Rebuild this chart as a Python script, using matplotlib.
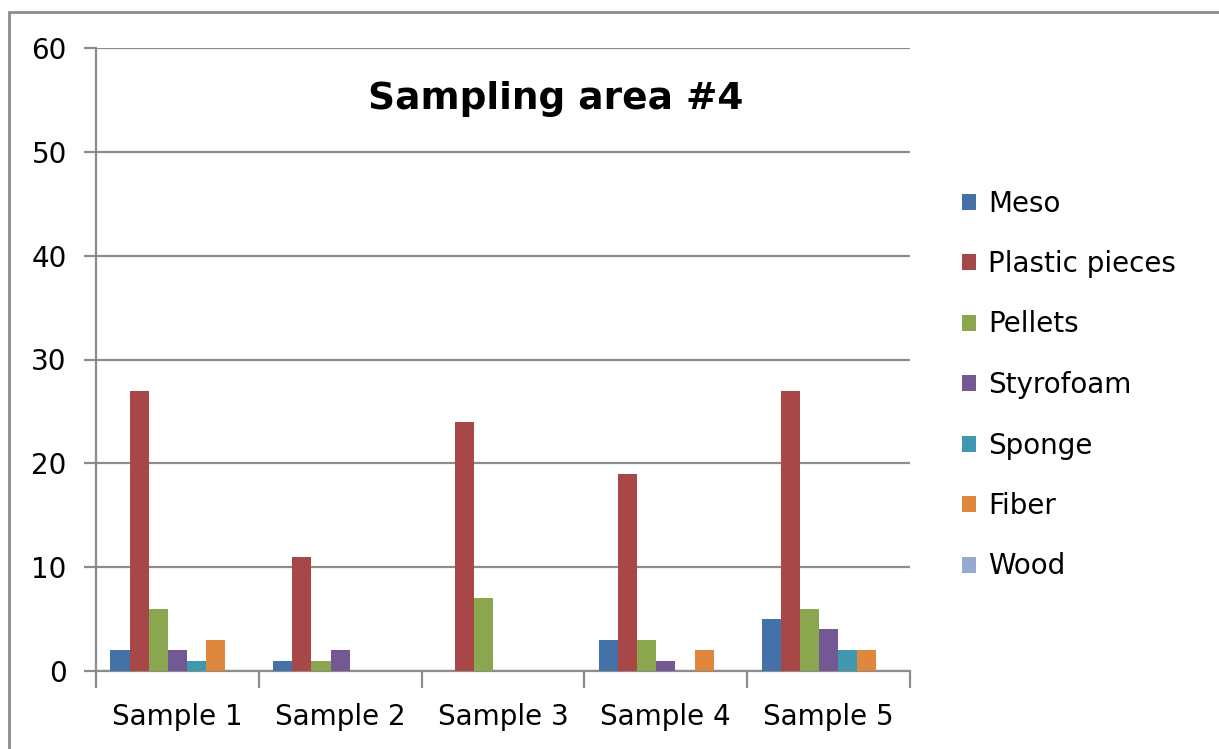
import numpy as np
import matplotlib
matplotlib.use("Agg")
import matplotlib.pyplot as plt
from matplotlib.patches import Rectangle

# data
samples = ["Sample 1", "Sample 2", "Sample 3", "Sample 4", "Sample 5"]
series = ["Meso", "Plastic pieces", "Pellets", "Styrofoam", "Sponge", "Fiber", "Wood"]
meso = [2, 1, 0, 3, 5]
plastic = [27, 11, 24, 19, 27]
pellets = [6, 1, 7, 3, 6]
styrofoam = [2, 2, 0, 1, 4]
sponge = [1, 0, 0, 0, 2]
fiber = [3, 0, 0, 2, 2]
wood = [0, 0, 0, 0, 0]
values = [meso, plastic, pellets, styrofoam, sponge, fiber, wood]
colors = ["#4472A8", "#A84747", "#8AA74F", "#735893", "#3F98AF", "#E0873E", "#94AAD2"]

plt.rcParams['font.family'] = ['DejaVu Sans']
grey = "#8C8C8C"

fig = plt.figure(figsize=(12.19, 7.49), dpi=100)
ax = fig.add_axes([96 / 1219, 1 - 671 / 749, (910 - 96) / 1219, (671 - 48) / 749])

# outer chart frame
fig.patches.append(Rectangle((9 / 1219, -0.1), 1.2, 1 - 12 / 749 + 0.1,
                             transform=fig.transFigure, fill=False,
                             edgecolor=grey, linewidth=2))

x = np.arange(len(samples))
n = len(series)
w = 1 / (n + 1.5)
for i, (name, vals, c) in enumerate(zip(series, values, colors)):
    ax.bar(x + (i - (n - 1) / 2) * w, vals, width=w, color=c, label=name,
           linewidth=0, zorder=3)

ax.set_xlim(-0.5, len(samples) - 0.5)
ax.set_ylim(0, 60)
ax.set_yticks(range(0, 61, 10))
ax.yaxis.grid(True, color=grey, linewidth=1.6, zorder=0)
ax.set_axisbelow(True)

ax.set_xticks(np.arange(-0.5, len(samples)))
ax.set_xticklabels([])
ax.set_xticks(x, minor=True)
ax.set_xticklabels(samples, minor=True)
ax.tick_params(axis="x", which="minor", length=0, labelsize=20, pad=23)
ax.tick_params(axis="x", which="major", length=12, width=1.6, color=grey)
ax.tick_params(axis="y", length=9, width=1.6, color=grey, labelsize=20, pad=12)

for s in ["top", "right"]:
    ax.spines[s].set_visible(False)
for s in ["left", "bottom"]:
    ax.spines[s].set_color(grey)
    ax.spines[s].set_linewidth(1.6)

ax.text(0.565, 0.918, "Sampling area #4", transform=ax.transAxes,
        ha="center", va="center", fontsize=27, fontweight="bold")

fig.legend(loc="center left", bbox_to_anchor=(962 / 1219, 1 - 385 / 749),
           frameon=False, fontsize=20, borderpad=0, borderaxespad=0,
           handlelength=0.5, handleheight=0.5, handletextpad=0.45,
           labelspacing=1.17)

fig.savefig("out.png", dpi=100)
